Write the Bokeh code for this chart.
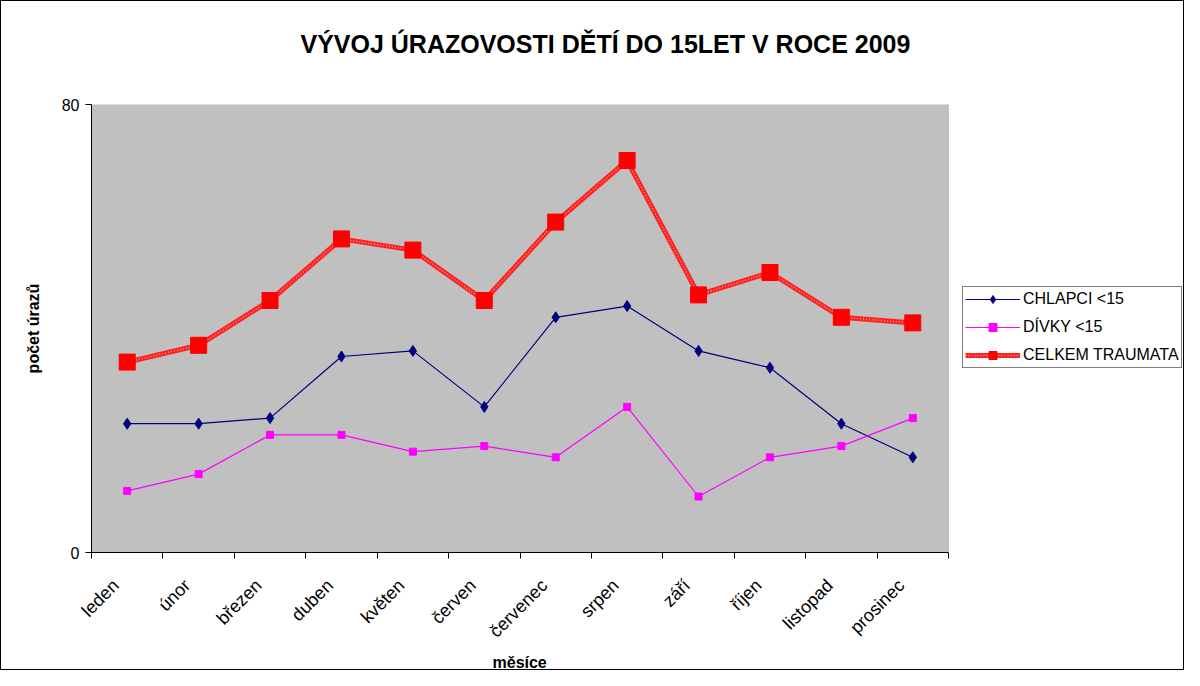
import math
from bokeh.plotting import figure
from bokeh.models import (FixedTicker, Range1d, Legend, LegendItem,
                          ColumnDataSource, BoxAnnotation, Title)
from bokeh.embed import file_html
from bokeh.resources import INLINE

months = ["leden", "únor", "březen", "duben", "květen", "červen",
          "červenec", "srpen", "září", "říjen", "listopad", "prosinec"]
chlapci = [23, 23, 24, 35, 36, 26, 42, 44, 36, 33, 23, 17]
divky = [11, 14, 21, 21, 18, 19, 17, 26, 10, 17, 19, 24]
celkem = [34, 37, 45, 56, 54, 45, 59, 70, 46, 50, 42, 41]
y_ticks = [0, 80]
title_text = "VÝVOJ ÚRAZOVOSTI DĚTÍ DO 15LET V ROCE 2009"
x_title = "měsíce"
y_title = "počet úrazů"
series_names = ["CHLAPCI <15", "DÍVKY <15", "CELKEM TRAUMATA"]

FONT = "Liberation Sans"
W, H = 1184, 670
LEFT, TOP, BOTTOM = 90, 103, 119
PLOT_W = 857          # width of the grey plot area in px
n = len(months)
xs = [i + 0.5 for i in range(n)]
label_pos = [x - 0.16 for x in xs]
src = ColumnDataSource(dict(x=xs, chlapci=chlapci, divky=divky, celkem=celkem))

x_end = n * (W - LEFT) / PLOT_W
p = figure(width=W, height=H, output_backend="svg", toolbar_location=None,
           x_range=Range1d(0, x_end), y_range=Range1d(y_ticks[0], y_ticks[-1]),
           min_border_left=LEFT, min_border_right=0, min_border_top=TOP,
           min_border_bottom=BOTTOM)
p.styles = {"border": "1px solid black", "box-sizing": "border-box"}
p.background_fill_color = "white"
p.border_fill_color = "white"
p.outline_line_color = None
p.xgrid.visible = False
p.ygrid.visible = False

p.add_layout(BoxAnnotation(left=0, right=n, bottom=y_ticks[0], top=y_ticks[-1],
                           fill_color="#C0C0C0", fill_alpha=1,
                           line_color="#808080", line_width=1, level="underlay"))

# main title
p.title.text = title_text
p.title.text_font = FONT
p.title.text_font_size = "25px"
p.title.text_font_style = "bold"
p.title.text_color = "black"
p.title.align = "left"
p.title.offset = 209
p.title.standoff = 10

# spacer between plot area and title
spacer = Title(text=" ", text_font_size="16px", standoff=23)
p.add_layout(spacer, "above")

# y axis
ya = p.yaxis[0]
ya.ticker = FixedTicker(ticks=y_ticks, minor_ticks=[])
ya.axis_line_color = "black"
ya.major_tick_line_color = "black"
ya.major_tick_out = 6
ya.major_tick_in = 0
ya.major_label_standoff = 6
ya.major_label_text_font = FONT
ya.major_label_text_font_size = "16px"
ya.major_label_text_color = "black"
ya.axis_label = y_title
ya.axis_label_text_font = FONT
ya.axis_label_text_font_size = "16px"
ya.axis_label_text_font_style = "bold"
ya.axis_label_text_color = "black"
ya.axis_label_standoff = 17

# x axis
xa = p.xaxis[0]
xa.bounds = (0, n)
xa.ticker = FixedTicker(ticks=label_pos, minor_ticks=list(range(n + 1)))
xa.major_label_overrides = {x: m for x, m in zip(label_pos, months)}
xa.axis_line_color = "black"
xa.major_tick_line_color = None
xa.minor_tick_line_color = "black"
xa.minor_tick_out = 6
xa.minor_tick_in = 0
xa.major_label_orientation = math.pi / 4
xa.major_label_standoff = 24
xa.major_label_text_font = FONT
xa.major_label_text_font_size = "18px"
xa.major_label_text_color = "black"

# x axis title, centred under the grey plot area
x_label = Title(text=x_title, text_font=FONT, text_font_size="16px",
                text_font_style="bold", text_color="black",
                align="left", offset=401, standoff=0)
p.add_layout(x_label, "below")

# series
r1l = p.line("x", "chlapci", source=src, line_color="#000080", line_width=1.2)
r1m = p.scatter("x", "chlapci", source=src, marker="diamond", size=11,
                fill_color="#000080", line_color="#000080")
r2l = p.line("x", "divky", source=src, line_color="#FF00FF", line_width=1.2)
r2m = p.scatter("x", "divky", source=src, marker="square", size=7,
                fill_color="#FF00FF", line_color="#FF00FF")
r3l = p.line("x", "celkem", source=src, line_color="#FF2020", line_width=5)
r3p = p.line("x", "celkem", source=src, line_color="#FF9A9A", line_width=1.5,
             line_dash="1 2")
r3m = p.scatter("x", "celkem", source=src, marker="square", size=16,
                fill_color="#FF0000", line_color="#FF0000")

legend = Legend(items=[
    LegendItem(label=series_names[0], renderers=[r1l, r1m]),
    LegendItem(label=series_names[1], renderers=[r2l, r2m]),
    LegendItem(label=series_names[2], renderers=[r3l, r3p, r3m]),
], location=(871, 184))
legend.label_text_font = FONT
legend.label_text_font_size = "16px"
legend.label_text_color = "black"
legend.glyph_width = 55
legend.glyph_height = 20
legend.label_height = 20
legend.label_standoff = 3
legend.spacing = 8
legend.padding = 2
legend.margin = 0
legend.border_line_color = "black"
legend.border_line_width = 1
legend.background_fill_color = "white"
legend.background_fill_alpha = 1
p.add_layout(legend, "center")

open("out.html", "w").write(file_html(p, INLINE))
